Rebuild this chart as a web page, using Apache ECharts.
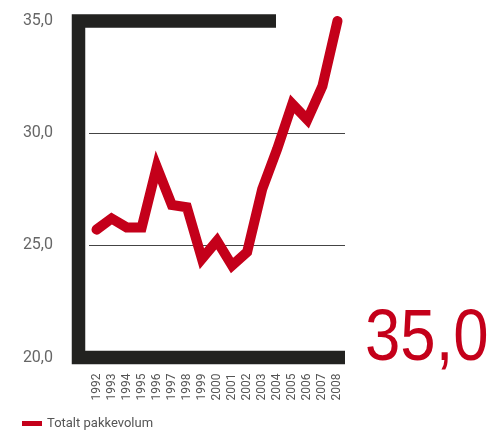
<!DOCTYPE html>
<html>
<head>
<meta charset="utf-8">
<script src="https://cdn.jsdelivr.net/npm/echarts@6/dist/echarts.min.js"></script>
<style>
  html, body { margin: 0; padding: 0; background: #fff; }
  #chart { width: 499px; height: 431px; }
</style>
</head>
<body>
<div id="chart"></div>
<script>
// data
var years = ['1992', '1993', '1994', '1995', '1996', '1997', '1998', '1999', '2000',
  '2001', '2002', '2003', '2004', '2005', '2006', '2007', '2008'];
var pakkevolum = [25.7, 26.2, 25.8, 25.8, 28.5, 26.8, 26.7, 24.4, 25.2,
  24.1, 24.7, 27.5, 29.3, 31.3, 30.6, 32.1, 35.0];
var seriesName = 'Totalt pakkevolum';
var yMin = 20, yMax = 35, yStep = 5;

var red = '#c4001a';
var frameColor = '#222220';

function fmt (v) {
  return v.toFixed(1).replace('.', ',');
}

var chart = echarts.init(document.getElementById('chart'));

var option = {
  backgroundColor: '#fff',
  animation: false,
  legend: {
    data: [seriesName],
    left: 17,
    top: 412,
    icon: 'rect',
    itemWidth: 20,
    itemHeight: 5,
    itemGap: 5,
    textStyle: { color: '#555', fontSize: 13, fontFamily: 'Roboto' }
  },
  grid: {
    left: 89,
    right: 154,
    top: 21,
    bottom: 73.5,
    containLabel: false
  },
  xAxis: {
    type: 'category',
    data: years,
    boundaryGap: true,
    axisLine: { show: false },
    axisTick: { show: false },
    axisLabel: {
      rotate: 90,
      interval: 0,
      margin: 16,
      color: '#555',
      fontSize: 12,
      fontFamily: 'Roboto'
    }
  },
  yAxis: {
    type: 'value',
    min: yMin,
    max: yMax,
    interval: yStep,
    axisLine: { show: false },
    axisTick: { show: false },
    axisLabel: {
      margin: 36,
      color: '#666',
      fontSize: 16,
      fontFamily: 'Roboto',
      formatter: function (v) { return fmt(v); }
    },
    splitLine: {
      show: true,
      showMinLine: false,
      showMaxLine: false,
      lineStyle: { color: '#444', width: 1 }
    }
  },
  series: [
    {
      name: seriesName,
      type: 'line',
      data: pakkevolum,
      symbol: 'none',
      z: 5,
      itemStyle: { color: red },
      lineStyle: { color: red, width: 10, cap: 'round', join: 'miter' }
    }
  ]
};

chart.setOption(option);

// frame round the plot, placed from the axes
var yTop = chart.convertToPixel({ yAxisIndex: 0 }, yMax);
var yBot = chart.convertToPixel({ yAxisIndex: 0 }, yMin);
var xLeft = 78.5;
var xRight = 345;
var xTopEnd = 276;
chart.setOption({
  graphic: [
    {
      type: 'polyline',
      z: 3,
      shape: { points: [[xTopEnd, yTop], [xLeft, yTop], [xLeft, yBot], [xRight, yBot]] },
      style: { fill: null, stroke: frameColor, lineWidth: 13.5, lineJoin: 'miter', lineCap: 'butt' }
    },
    {
      // big label with the last value (white outline makes it look lighter)
      type: 'text',
      x: 365,
      y: 340,
      scaleX: 0.87,
      z: 4,
      style: {
        text: fmt(pakkevolum[pakkevolum.length - 1]),
        fill: red,
        stroke: '#fff',
        lineWidth: 2,
        font: 'normal 73px "Liberation Sans", sans-serif',
        align: 'left',
        verticalAlign: 'middle'
      }
    }
  ]
});
</script>
</body>
</html>
